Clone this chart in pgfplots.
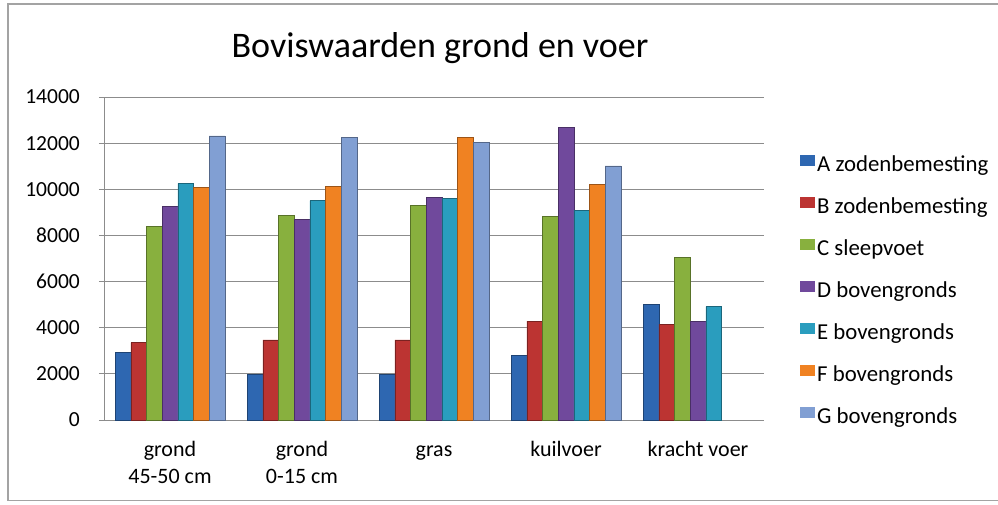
\documentclass[border=0pt]{standalone}
\usepackage{pgfplots}
\pgfplotsset{compat=1.18}
\usetikzlibrary{calc}
\usepackage{fontspec}
\setmainfont{Carlito}
\definecolor{cA}{HTML}{2E67B1}
\definecolor{cB}{HTML}{BC3432}
\definecolor{cC}{HTML}{88B03E}
\definecolor{cD}{HTML}{70499C}
\definecolor{cE}{HTML}{2A9DBE}
\definecolor{cF}{HTML}{F08222}
\definecolor{cG}{HTML}{819FD3}
\definecolor{gridc}{HTML}{8C8C8C}
\newcommand\st{\rule{0pt}{16pt}}
\pgfplotsset{
  mybar/.style={draw=#1!65!black, line width=0.6pt, fill=#1,
    legend image code/.code={\path[##1, draw=none] (0pt,0.5pt) rectangle (15pt,11.5pt);}},
}
\begin{document}
\begin{tikzpicture}
\begin{axis}[
  name=ax,
  scale only axis, width=660pt, height=323pt,
  ybar=0pt, bar width=15.66pt,
  xmin=-0.5, xmax=4.5, ymin=0, ymax=14000,
  xtick={0,1,2,3,4},
  xticklabels={{\st grond\\45-50 cm},{\st grond\\0-15 cm},\st gras,\st kuilvoer,\st kracht voer},
  xticklabel style={align=center, anchor=north, inner sep=0pt, yshift=-15pt, font=\fontsize{22}{27}\selectfont},
  x tick style={draw=none},
  ytick={0,2000,...,14000},
  scaled y ticks=false,
  yticklabel style={anchor=east, inner sep=0pt, xshift=-19pt, font=\fontsize{21.5}{24}\selectfont},
  /pgf/number format/.cd, set thousands separator={}, assume math mode=true, /pgfplots/.cd,
  y tick style={draw=gridc, line width=0.8pt},
  tick align=outside, major tick length=5pt,
  ymajorgrids, grid style={draw=gridc, line width=0.8pt},
  axis line style={draw=gridc, line width=0.8pt},
  axis x line*=bottom, axis y line*=left,
  legend style={at={(1.0545,0.8217)}, anchor=north west, draw=none, fill=none, inner sep=0pt,
    font=\fontsize{22.8}{26}\selectfont, row sep=20.6pt,
    nodes={inner sep=0pt, text height=15pt, text depth=5pt, anchor=west},
    /tikz/every odd column/.style={column sep=2pt}},
  legend cell align=left,
]
\addplot[mybar=cA] coordinates {(0,2917) (1,1980) (2,1980) (3,2790) (4,5010)};
\addplot[mybar=cB] coordinates {(0,3350) (1,3470) (2,3470) (3,4290) (4,4150)};
\addplot[mybar=cC] coordinates {(0,8380) (1,8870) (2,9290) (3,8810) (4,7035)};
\addplot[mybar=cD] coordinates {(0,9250) (1,8710) (2,9650) (3,12690) (4,4290)};
\addplot[mybar=cE] coordinates {(0,10260) (1,9505) (2,9590) (3,9100) (4,4910)};
\addplot[mybar=cF] coordinates {(0,10070) (1,10140) (2,12250) (3,10215)};
\addplot[mybar=cG] coordinates {(0,12310) (1,12250) (2,12020) (3,11010)};
\legend{A zodenbemesting, B zodenbemesting, C sleepvoet, D bovengronds, E bovengronds, F bovengronds, G bovengronds}
\end{axis}
\pgfresetboundingbox
\coordinate (O) at ($(ax.south west)+(-104pt,-84pt)$);
\useasboundingbox (O) rectangle ++(998pt,504pt);
\draw[color=gridc!80, line width=1.3pt] ($(O)+(8pt,3.5pt)$) rectangle ($(O)+(1004pt,500pt)$);
\node[font=\fontsize{36}{40}\selectfont, anchor=base] at ($(O)+(440pt,446pt)$) {Boviswaarden grond en voer};
\end{tikzpicture}
\end{document}
